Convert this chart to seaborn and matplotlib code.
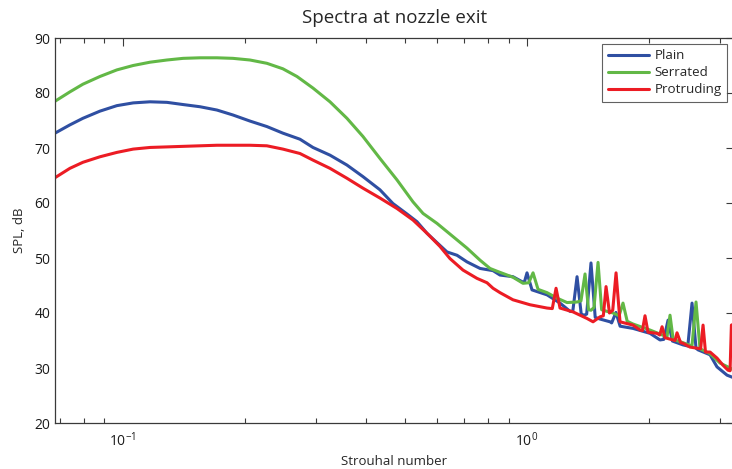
import numpy as np
import pandas as pd
import matplotlib
matplotlib.use("Agg")
import matplotlib.pyplot as plt
from matplotlib.ticker import LogLocator, NullFormatter, FixedLocator
import seaborn as sns

# Narrow-band SPL spectra at the nozzle exit for three nozzle geometries
plain_st = [0.0679, 0.0739, 0.0796, 0.0877, 0.0966, 0.106, 0.1167, 0.1285, 0.1409,
            0.1552, 0.1709, 0.1872, 0.2062, 0.2271, 0.2488, 0.2742, 0.2953, 0.3254,
            0.3584, 0.3926, 0.4326, 0.4659, 0.5047, 0.5342, 0.5655, 0.5986, 0.6339,
            0.6710, 0.7102, 0.7653, 0.8240, 0.8574, 0.9232, 0.9719, 0.985, 1.0,
            1.029, 1.121, 1.207, 1.278, 1.298, 1.330, 1.362, 1.384, 1.405, 1.440,
            1.475, 1.516, 1.605, 1.62, 1.66, 1.70, 1.829, 2.016, 2.134, 2.18,
            2.234, 2.29, 2.433, 2.50, 2.561, 2.62, 2.650, 2.838, 2.953, 3.126,
            3.253]
plain_db = [72.7, 74.2, 75.4, 76.7, 77.7, 78.2, 78.4, 78.3, 77.9,
            77.5, 76.9, 76.0, 74.9, 73.9, 72.7, 71.6, 70.1, 68.7,
            66.9, 64.8, 62.4, 59.9, 58.0, 56.6, 54.5, 52.8, 51.1,
            50.5, 49.3, 48.1, 47.7, 46.9, 46.6, 45.7, 45.6, 47.3,
            44.2, 43.3, 41.8, 40.3, 40.3, 46.6, 39.8, 39.6, 39.8, 49.1,
            39.2, 38.9, 38.4, 38.2, 40.1, 37.6, 37.2, 36.3, 35.1, 35.2,
            38.7, 34.9, 34.2, 34.0, 41.8, 33.6, 33.3, 32.4, 30.2, 28.7,
            28.2]

serrated_st = [0.0679, 0.0739, 0.0796, 0.0877, 0.0966, 0.106, 0.1167, 0.1285, 0.1409,
               0.1552, 0.1709, 0.1872, 0.2062, 0.2271, 0.2488, 0.2696, 0.2953, 0.3254,
               0.3584, 0.3926, 0.4326, 0.4767, 0.5223, 0.5530, 0.5986, 0.6558, 0.7102,
               0.7653, 0.8099, 0.8426, 0.9232, 0.9775, 1.010, 1.035, 1.065, 1.121,
               1.187, 1.256, 1.330, 1.36, 1.392, 1.42, 1.440, 1.465, 1.499, 1.53,
               1.542, 1.633, 1.69, 1.728, 1.77, 1.829, 2.016, 2.196, 2.22, 2.259,
               2.30, 2.433, 2.56, 2.620, 2.68, 2.838, 3.004, 3.181, 3.253]
serrated_db = [78.5, 80.2, 81.6, 83.0, 84.2, 85.0, 85.6, 86.0, 86.3,
               86.4, 86.4, 86.3, 86.0, 85.4, 84.4, 83.0, 80.9, 78.4,
               75.4, 72.1, 68.1, 64.2, 60.2, 58.1, 56.3, 53.9, 51.8,
               49.6, 48.1, 47.6, 46.5, 45.4, 45.5, 47.3, 44.3, 43.7,
               42.7, 41.9, 42.0, 42.2, 47.1, 40.6, 40.5, 41.0, 49.2, 40.6,
               40.5, 40.0, 39.5, 41.8, 38.5, 38.0, 36.9, 35.8, 35.6, 39.6,
               35.2, 34.6, 34.0, 42.0, 33.5, 32.6, 30.9, 30.0, 29.6]

protruding_st = [0.0679, 0.0739, 0.0796, 0.0877, 0.0966, 0.106, 0.1167, 0.1285, 0.1409,
                 0.1552, 0.1709, 0.1872, 0.2062, 0.2271, 0.2488, 0.2742, 0.2953, 0.3254,
                 0.3584, 0.3926, 0.4326, 0.4767, 0.5223, 0.5655, 0.6090, 0.6446, 0.6944,
                 0.7518, 0.7962, 0.8240, 0.8574, 0.9232, 1.017, 1.121, 1.155, 1.180,
                 1.207, 1.300, 1.408, 1.457, 1.516, 1.545, 1.569, 1.600, 1.630, 1.661,
                 1.699, 1.829, 1.905, 1.93, 1.959, 1.993, 2.098, 2.130, 2.159, 2.196,
                 2.298, 2.325, 2.351, 2.40, 2.433, 2.532, 2.69, 2.727, 2.765, 2.838,
                 2.953, 3.056, 3.144, 3.181, 3.205, 3.253]
protruding_db = [64.6, 66.3, 67.4, 68.4, 69.2, 69.8, 70.1, 70.2, 70.3,
                 70.4, 70.5, 70.5, 70.5, 70.4, 69.8, 69.0, 67.8, 66.3,
                 64.5, 62.7, 60.9, 59.0, 56.9, 54.5, 52.1, 49.9, 47.8,
                 46.3, 45.5, 44.5, 43.7, 42.4, 41.5, 40.9, 40.8, 44.5,
                 40.9, 40.2, 39.0, 38.4, 39.3, 39.5, 44.8, 40.0, 40.5, 47.3,
                 38.4, 37.8, 36.9, 36.8, 39.5, 36.5, 36.3, 36.0, 37.5, 35.5,
                 35.1, 35.0, 36.4, 34.6, 34.5, 33.8, 33.5, 37.8, 32.9, 32.9,
                 31.8, 30.5, 29.6, 29.5, 37.8, 38.0]

series_names = ["Plain", "Serrated", "Protruding"]
series_colors = ["#2f4fa2", "#62b846", "#ec1c24"]

frames = []
for name, st, db in zip(series_names,
                        [plain_st, serrated_st, protruding_st],
                        [plain_db, serrated_db, protruding_db]):
    frames.append(pd.DataFrame({"St": st, "SPL": db, "Nozzle": name}))
df = pd.concat(frames, ignore_index=True)

sns.set_style("white")
plt.rcParams["font.family"] = ["Open Sans", "DejaVu Sans"]

W, H = 732, 469
fig = plt.figure(figsize=(W / 100, H / 100), dpi=100)
ax = fig.add_axes([55 / W, 46 / H, (734 - 55) / W, (423 - 38) / H])

sns.lineplot(data=df, x="St", y="SPL", hue="Nozzle", hue_order=series_names,
             palette=series_colors, estimator=None, sort=False, linewidth=2.2,
             ax=ax)
for line in ax.get_lines():
    line.set_solid_joinstyle("round")

ax.set_xscale("log")
ax.set_xlim(0.0679, 3.253)
ax.set_ylim(20, 90)
ax.set_yticks(np.arange(20, 91, 10))
ax.xaxis.set_major_locator(FixedLocator([0.1, 1.0]))
ax.xaxis.set_minor_locator(LogLocator(base=10, subs=np.arange(2, 10)))
ax.xaxis.set_minor_formatter(NullFormatter())

for side in ["left", "bottom", "top", "right"]:
    ax.spines[side].set_visible(True)
    ax.spines[side].set_color("#3a3a3a")
    ax.spines[side].set_linewidth(0.9)

ax.tick_params(axis="both", which="major", direction="in", length=6,
               width=0.8, color="#3a3a3a", top=True, right=True,
               labelsize=10, labelcolor="#1a1a1a")
ax.tick_params(axis="x", which="minor", direction="in", length=3.5,
               width=0.8, color="#3a3a3a", top=True, bottom=True)
ax.tick_params(axis="x", which="major", pad=6)

ax.set_xlabel("Strouhal number", fontsize=9.5, labelpad=4)
ax.set_ylabel("SPL, dB", fontsize=9.5, labelpad=6)
ax.set_title("Spectra at nozzle exit", fontsize=13.5, pad=11)
ax.grid(False)

leg = ax.legend(loc="upper right", bbox_to_anchor=(727 / W, (H - 44) / H),
                bbox_transform=fig.transFigure, fontsize=9.6, frameon=True,
                fancybox=False, edgecolor="#3a3a3a", borderaxespad=0,
                handlelength=3.1, handletextpad=0.4, labelspacing=0.3,
                borderpad=0.4, title=None)
leg.get_frame().set_linewidth(0.8)
for line in leg.get_lines():
    line.set_linewidth(2.2)

fig.savefig("out.png", dpi=100)
